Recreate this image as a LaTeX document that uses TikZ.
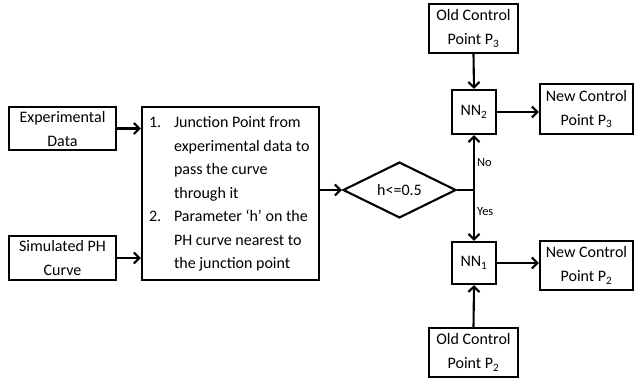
\documentclass[tikz,border=0pt]{standalone}
\usepackage{fontspec}
\setmainfont{Carlito}
\usetikzlibrary{arrows.meta,shapes.geometric}
\begin{document}
\begin{tikzpicture}[x=1pt,y=-1pt, line width=2.1pt,
 box/.style={draw, rectangle, inner sep=0pt, align=center, font=\fontsize{16}{24}\selectfont},
 arr/.style={-{Straight Barb[length=5.5pt,width=11pt]}},
 lbl/.style={font=\fontsize{12.5}{14}\selectfont, inner sep=1pt}]
\useasboundingbox (0,0) rectangle (634,381);
\node[box, minimum width=107pt, minimum height=43pt] (exp) at (62.5,128.5) {Experimental\\Data};
\node[box, minimum width=107pt, minimum height=44pt] (sim) at (62.5,258) {Simulated PH\\Curve};
\node[box, minimum width=177pt, minimum height=173pt] (main) at (230.5,193.5) {};
\node[anchor=north west, inner sep=0pt, align=left, font=\fontsize{16}{23.5}\selectfont] (maintext) at (148,110)
 {\begin{tabular}{@{}p{25pt}@{}l@{}}
 1. & Junction Point from\\
    & experimental data to\\
    & pass the curve\\
    & through it\\
 2. & Parameter ‘h’ on the\\
    & PH curve nearest to\\
    & the junction point
 \end{tabular}};
\node[draw, diamond, minimum width=113pt, minimum height=48pt, inner sep=0pt, font=\fontsize{16}{20}\selectfont] (dia) at (399.5,190) {h<=0.5};
\coordinate (j) at (474,190);
\node[box, minimum width=44pt, minimum height=44pt] (nn2) at (474,112) {NN\textsubscript{2}};
\node[box, minimum width=44pt, minimum height=42pt] (nn1) at (474,263) {NN\textsubscript{1}};
\node[box, minimum width=89pt, minimum height=49pt] (old3) at (473.5,28.5) {Old Control\\Point P\textsubscript{3}};
\node[box, minimum width=93pt, minimum height=50pt] (new3) at (586.5,109) {New Control\\Point P\textsubscript{3}};
\node[box, minimum width=93pt, minimum height=49pt] (new2) at (586.5,265.5) {New Control\\Point P\textsubscript{2}};
\node[box, minimum width=89pt, minimum height=49pt] (old2) at (473.5,352.5) {Old Control\\Point P\textsubscript{2}};
\draw[arr] (exp.east) -- (exp.east -| main.west);
\draw[arr] (sim.east) -- (sim.east -| main.west);
\draw[arr] (main.east |- dia.west) -- (dia.west);
\draw (dia.east) -- (j);
\draw[arr] (j) -- (nn2.south);
\draw[arr] (j) -- (nn1.north);
\draw[arr] (old3.south) -- (nn2.north);
\draw[arr] (old2.north) -- (nn1.south);
\draw[arr] (nn2.east) -- (nn2.east -| new3.west);
\draw[arr] (nn1.east) -- (nn1.east -| new2.west);
\node[lbl, anchor=west] (no) at (475,163) {No};
\node[lbl, anchor=west] (yes) at (475,212) {Yes};
\end{tikzpicture}
\end{document}
